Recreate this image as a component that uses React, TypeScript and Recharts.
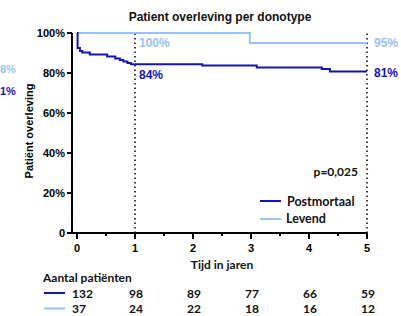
import { LineChart, Line, XAxis, YAxis, ReferenceLine, ReferenceDot } from 'recharts';

// Kaplan-Meier steps (time in years, survival %)
const postT = [0, 0.01, 0.05, 0.09, 0.22, 0.52, 0.66, 0.74, 0.8, 0.87, 0.93, 2.16, 3.1, 4.22, 4.36, 5];
const postS = [100, 92.5, 91, 90.2, 89.2, 88.2, 87.3, 86.5, 85.8, 85, 84.4, 83.7, 82.8, 82, 80.8, 80.8];
const livT = [0, 2.98, 5];
const livS = [100, 95, 95];

const yTicks = [0, 10, 20, 30, 40, 50, 60, 70, 80, 90, 100];
const xTicks = [0, 0.5, 1, 1.5, 2, 2.5, 3, 3.5, 4, 4.5, 5];

const riskYears = [0, 1, 2, 3, 4, 5];
const riskPost = [132, 98, 89, 77, 66, 59];
const riskLiv = [37, 24, 22, 18, 16, 12];

const DARK = '#1414b4';
const LIGHT = '#99c2f2';
const FONT_A = '"Liberation Sans", Arial, sans-serif';
const FONT_B = 'Lato, "Open Sans", sans-serif';

const W = 401;
const H = 316;
const LEFT = 72;
const RIGHT = 367;
const TOP = 33;
const BOTTOM = 233;
const X_MIN = -5 / 58;
const XAXIS_H = 20;

const xPx = (t: number) => LEFT + ((t - X_MIN) * (RIGHT - LEFT)) / (5 - X_MIN);

const postData = postT.map((t, i) => ({ t, s: postS[i] }));
const livData = livT.map((t, i) => ({ t, s: livS[i] }));

const YTick = ({ x, y, payload }: any) => {
  const v = payload.value;
  const major = v % 20 === 0;
  return (
    <g>
      <line x1={x} x2={x - (major ? 5 : 3)} y1={y} y2={y} stroke="#000" strokeWidth={2} />
      {major && (
        <text x={x - 7} y={y} dy="0.35em" textAnchor="end" fontFamily={FONT_A} fontWeight="bold" fontSize={11} fill="#000">
          {v === 0 ? '0' : v + '%'}
        </text>
      )}
    </g>
  );
};

const XTick = ({ x, y, payload }: any) => {
  const v = payload.value;
  const major = Number.isInteger(v);
  return (
    <g>
      <line x1={x} x2={x} y1={y} y2={y + (major ? 6 : 3)} stroke="#000" strokeWidth={2} />
      {major && (
        <text x={x} y={y + 19} textAnchor="middle" fontFamily={FONT_A} fontWeight="bold" fontSize={11} fill="#000">
          {v}
        </text>
      )}
    </g>
  );
};

const valueLabel = (text: string, color: string, dx: number, dy: number) => (props: any) => {
  const vb = props.viewBox || {};
  const cx = (vb.x ?? 0) + (vb.width ?? 0) / 2;
  const cy = (vb.y ?? 0) + (vb.height ?? 0) / 2;
  return (
    <text x={cx + dx} y={cy + dy} dy="0.35em" fontFamily={FONT_A} fontWeight="bold" fontSize={12} fill={color}>
      {text}
    </text>
  );
};

export default function App() {
  return (
    <div style={{ position: 'absolute', left: 0, top: 0, width: W, height: H, background: '#fff', overflow: 'hidden' }}>
      <LineChart width={W} height={H} margin={{ top: TOP, right: W - RIGHT, bottom: H - BOTTOM - XAXIS_H, left: 0 }}>
        <XAxis
          type="number"
          dataKey="t"
          domain={[X_MIN, 5]}
          ticks={xTicks}
          allowDataOverflow
          height={XAXIS_H}
          tickSize={0}
          tickMargin={0}
          tickLine={false}
          tick={<XTick />}
          axisLine={{ stroke: '#000', strokeWidth: 2 }}
        />
        <YAxis
          type="number"
          domain={[0, 100]}
          ticks={yTicks}
          width={LEFT}
          tickSize={0}
          tickMargin={0}
          tickLine={false}
          tick={<YTick />}
          axisLine={{ stroke: '#000', strokeWidth: 2 }}
        />
        <ReferenceLine x={1} stroke="#000" strokeWidth={1.5} strokeDasharray="1.5 3" />
        <ReferenceLine x={5} stroke="#000" strokeWidth={1.5} strokeDasharray="1.5 3" />
        <Line data={livData} dataKey="s" type="stepAfter" stroke={LIGHT} strokeWidth={2} dot={false} isAnimationActive={false} />
        <Line data={postData} dataKey="s" type="stepAfter" stroke={DARK} strokeWidth={2} dot={false} isAnimationActive={false} />
        <ReferenceDot x={1} y={100} r={0} stroke="none" fill="none" label={valueLabel('100%', LIGHT, 4, 10)} />
        <ReferenceDot x={1} y={84.4} r={0} stroke="none" fill="none" label={valueLabel('84%', DARK, 4, 11)} />
        <ReferenceDot x={5} y={95} r={0} stroke="none" fill="none" label={valueLabel('95%', LIGHT, 7, 0)} />
        <ReferenceDot x={5} y={80.8} r={0} stroke="none" fill="none" label={valueLabel('81%', DARK, 7, 1)} />
      </LineChart>

      <svg width={W} height={H} style={{ position: 'absolute', left: 0, top: 0, pointerEvents: 'none' }}>
        <text x={220} y={21} textAnchor="middle" fontFamily={FONT_A} fontWeight="bold" fontSize={12} fill="#111">
          Patient overleving per donotype
        </text>
        <text transform="translate(33,131) rotate(-90)" textAnchor="middle" fontFamily={FONT_A} fontWeight="bold" fontSize={11} fill="#000">
          Patiënt overleving
        </text>
        {/* labels at the left edge, left over from the neighbouring panel */}
        <text x={0} y={69} dy="0.35em" fontFamily={FONT_A} fontWeight="bold" fontSize={11} fill={LIGHT}>8%</text>
        <text x={0} y={91} dy="0.35em" fontFamily={FONT_A} fontWeight="bold" fontSize={11} fill={DARK}>1%</text>

        <text x={358} y={172} dy="0.35em" textAnchor="end" fontFamily={FONT_B} fontWeight="bold" fontSize={12} fill="#111">p=0,025</text>

        <line x1={260} x2={281} y1={201} y2={201} stroke={DARK} strokeWidth={2} />
        <text x={287} y={202} dy="0.35em" fontFamily={FONT_B} fontWeight="bold" fontSize={12.5} fill="#111">Postmortaal</text>
        <line x1={260} x2={281} y1={219} y2={219} stroke={LIGHT} strokeWidth={2} />
        <text x={286} y={219} dy="0.35em" fontFamily={FONT_B} fontWeight="bold" fontSize={12.5} fill="#111">Levend</text>

        <text x={222} y={265} dy="0.35em" textAnchor="middle" fontFamily={FONT_B} fontWeight="bold" fontSize={12} fill="#111">Tijd in jaren</text>

        <text x={43} y={278} dy="0.35em" fontFamily={FONT_B} fontWeight="bold" fontSize={12} fill="#111">Aantal patiënten</text>
        <line x1={44} x2={65} y1={293} y2={293} stroke={DARK} strokeWidth={2} />
        <line x1={44} x2={65} y1={308.5} y2={308.5} stroke={LIGHT} strokeWidth={2} />
        {riskYears.map((yr, i) => (
          <text
            key={'p' + yr}
            x={i === 0 ? 72 : xPx(yr) + 1}
            y={293.5}
            dy="0.35em"
            textAnchor={i === 0 ? 'start' : 'middle'}
            fontFamily={FONT_B}
            fontWeight="bold"
            fontSize={12}
            fill="#111"
          >
            {riskPost[i]}
          </text>
        ))}
        {riskYears.map((yr, i) => (
          <text
            key={'l' + yr}
            x={i === 0 ? 72 : xPx(yr) + 1}
            y={308.5}
            dy="0.35em"
            textAnchor={i === 0 ? 'start' : 'middle'}
            fontFamily={FONT_B}
            fontWeight="bold"
            fontSize={12}
            fill="#111"
          >
            {riskLiv[i]}
          </text>
        ))}
      </svg>
    </div>
  );
}
